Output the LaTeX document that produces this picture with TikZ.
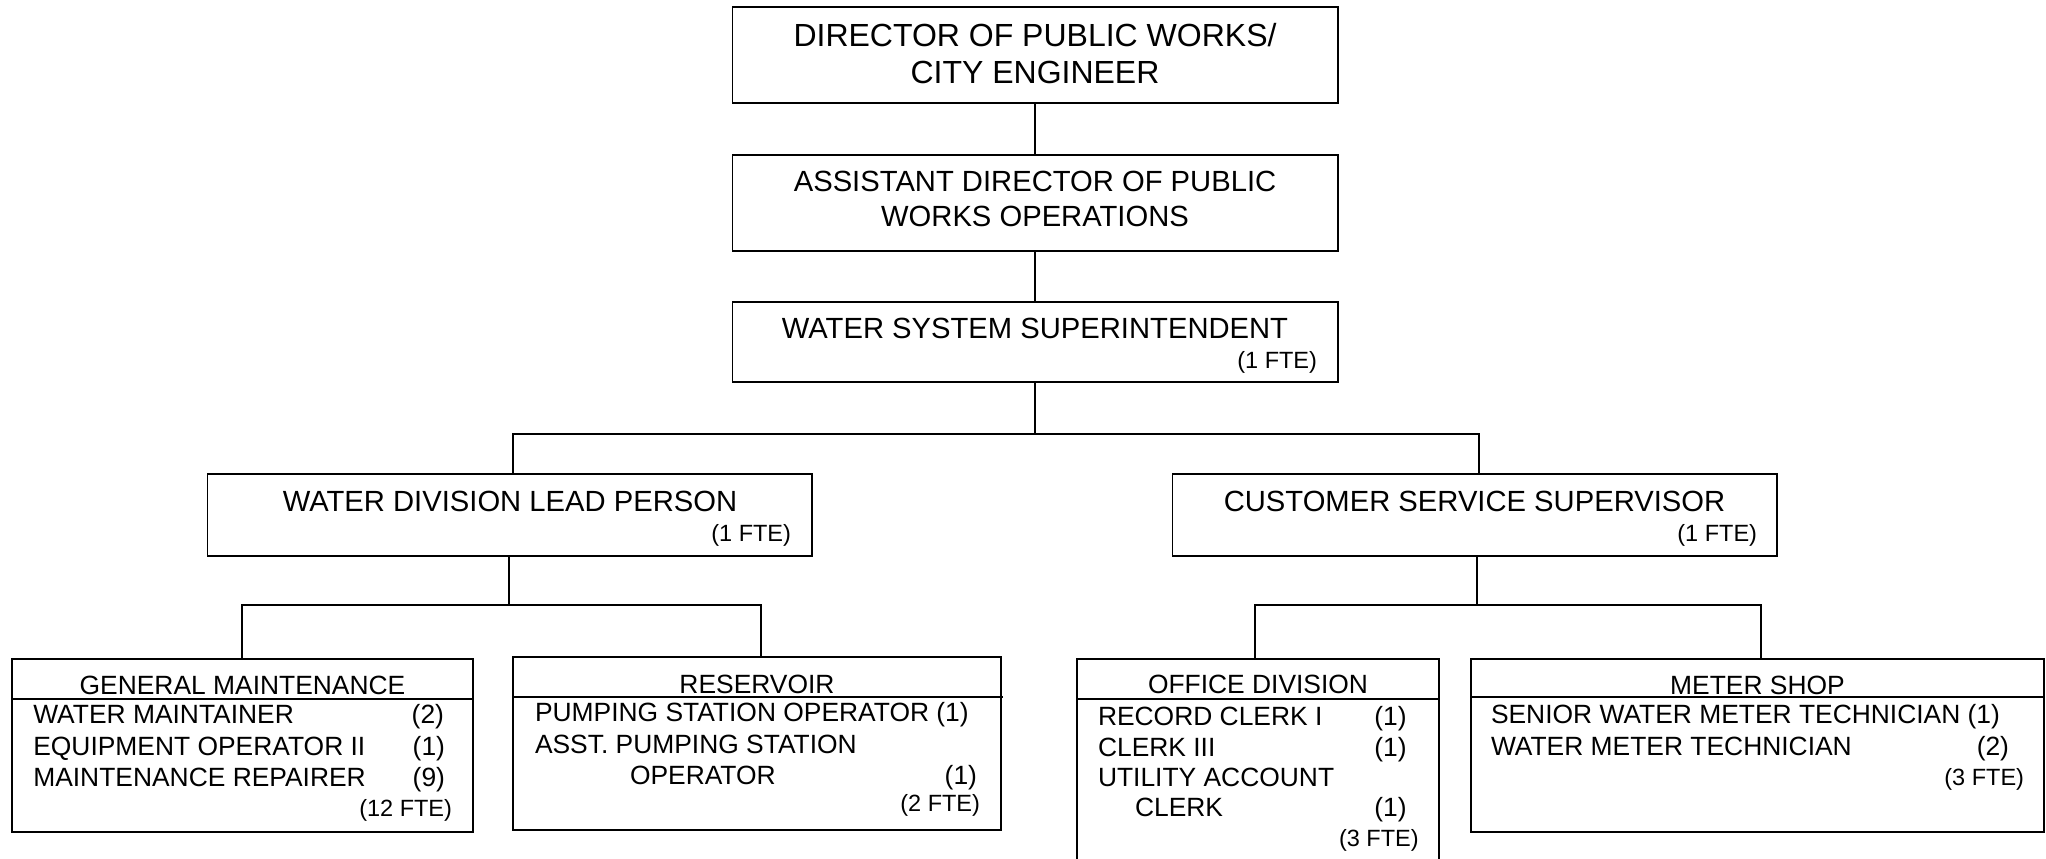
\documentclass[tikz,border=0pt]{standalone}
\usepackage{fontspec}
\setmainfont{Liberation Sans}
\newcommand\fDir{\fontsize{32}{38}\selectfont}
\newcommand\fMid{\fontsize{29.2}{35}\selectfont}
\newcommand\fLow{\fontsize{26.4}{31}\selectfont}
\newcommand\fSm{\fontsize{23.5}{28}\selectfont}
\tikzset{
  box/.style={draw, line width=1.8pt, inner sep=0pt, outer sep=0pt},
  tc/.style={inner sep=0pt, outer sep=0pt, anchor=base},
  tl/.style={inner sep=0pt, outer sep=0pt, anchor=base west},
  tr/.style={inner sep=0pt, outer sep=0pt, anchor=base east},
  conn/.style={line width=1.8pt},
}
\begin{document}
\begin{tikzpicture}[x=1pt,y=-1pt]
\useasboundingbox (0,0) rectangle (2046,859);
\clip (0,0) rectangle (2046,859);
% boxes
\node[box, minimum width=605.2pt, minimum height=95.4pt] (dir) at (1035,55) {};
\node[box, minimum width=605.2pt, minimum height=95.7pt] (ass) at (1035,202.85) {};
\node[box, minimum width=605.2pt, minimum height=80.6pt] (wss) at (1035,342) {};
\node[box, minimum width=604.6pt, minimum height=81.4pt] (wdlp) at (509.7,515) {};
\node[box, minimum width=604.5pt, minimum height=81.4pt] (css) at (1474.75,515) {};
\node[box, minimum width=461pt, minimum height=173pt] (gm) at (242.5,745.8) {};
\node[box, minimum width=487.7pt, minimum height=172.7pt] (res) at (757.15,743.65) {};
\node[box, minimum width=362pt, minimum height=240pt] (off) at (1258,779.3) {};
\node[box, minimum width=573pt, minimum height=172.4pt] (met) at (1757.5,745.5) {};
% dividers
\draw[conn] (gm.west |- 0,699.3) -- (gm.east |- 0,699.3);
\draw[conn] (res.west |- 0,697.3) -- ([xshift=2pt]res.east |- 0,697.3);
\draw[conn] (off.west |- 0,699) -- (off.east |- 0,699);
\draw[conn] (met.west |- 0,697) -- (met.east |- 0,697);
% texts
\node[tc] (dirA) at (1035,46.7) {\fDir DIRECTOR OF PUBLIC WORKS/};
\node[tc] (dirB) at (1035,83.3) {\fDir CITY ENGINEER};
\node[tc] (assA) at (1035,191.7) {\fMid ASSISTANT DIRECTOR OF PUBLIC};
\node[tc] (assB) at (1035,226.7) {\fMid WORKS OPERATIONS};
\node[tc] (wssA) at (1035,338.3) {\fMid WATER SYSTEM SUPERINTENDENT};
\node[tr] (wssB) at (1317,368.3) {\fSm (1 FTE)};
\node[tc] (wdlpA) at (510,511.7) {\fMid WATER DIVISION LEAD PERSON};
\node[tr] (wdlpB) at (791,541.7) {\fSm (1 FTE)};
\node[tc] (cssA) at (1474.5,511.7) {\fMid CUSTOMER SERVICE SUPERVISOR};
\node[tr] (cssB) at (1757,541.7) {\fSm (1 FTE)};
% general maintenance
\node[tc] (gmT) at (242.5,694) {\fLow GENERAL MAINTENANCE};
\node[tl] (gm1) at (33.3,723.3) {\fLow WATER MAINTAINER};
\node[tl] (gm2) at (33.3,755) {\fLow EQUIPMENT OPERATOR II};
\node[tl] (gm3) at (33.3,786.7) {\fLow MAINTENANCE REPAIRER};
\node[tr] (gm1n) at (444,723.3) {\fLow (2)};
\node[tr] (gm2n) at (445,755) {\fLow (1)};
\node[tr] (gm3n) at (445,786.7) {\fLow (9)};
\node[tr] (gmF) at (452,816) {\fSm (12 FTE)};
% reservoir
\node[tc] (resT) at (757,693) {\fLow RESERVOIR};
\node[tl] (res1) at (535,721.7) {\fLow PUMPING STATION OPERATOR (1)};
\node[tl] (res2) at (535,753.3) {\fLow ASST. PUMPING STATION};
\node[tl] (res3) at (630,784.3) {\fLow OPERATOR};
\node[tr] (res3n) at (977,784.3) {\fLow (1)};
\node[tr] (resF) at (980,811.7) {\fSm (2 FTE)};
% office division
\node[tc] (offT) at (1258,693) {\fLow OFFICE DIVISION};
\node[tl] (off1) at (1098,725) {\fLow RECORD CLERK I};
\node[tl] (off2) at (1098,756) {\fLow CLERK III};
\node[tl] (off3) at (1098,786.7) {\fLow UTILITY ACCOUNT};
\node[tl] (off4) at (1135,816.7) {\fLow CLERK};
\node[tr] (off1n) at (1406.6,725) {\fLow (1)};
\node[tr] (off2n) at (1406.6,756) {\fLow (1)};
\node[tr] (off4n) at (1406.6,816.7) {\fLow (1)};
\node[tr] (offF) at (1418.7,846.7) {\fSm (3 FTE)};
% meter shop
\node[tc] (metT) at (1757.5,694) {\fLow METER SHOP};
\node[tl] (met1) at (1491,723) {\fLow SENIOR WATER METER TECHNICIAN (1)};
\node[tl] (met2) at (1491,755) {\fLow WATER METER TECHNICIAN};
\node[tr] (met2n) at (2009,755) {\fLow (2)};
\node[tr] (metF) at (2024,785) {\fSm (3 FTE)};
% connectors
\coordinate (busT) at (1035,433.7);
\coordinate (busL) at (513,433.7);
\coordinate (busR) at (1479,433.7);
\coordinate (bw) at (509,605);
\coordinate (bwL) at (242.3,605);
\coordinate (bwR) at (761,605);
\coordinate (bc) at (1477,605);
\coordinate (bcL) at (1255,605);
\coordinate (bcR) at (1761,605);
\draw[conn] (dir.south) -- (ass.north);
\draw[conn] (ass.south) -- (wss.north);
\draw[conn] (wss.south) -- (busT);
\draw[conn] (busL |- wdlp.north) -- (busL) -- (busR) -- (busR |- css.north);
\draw[conn] (bw |- wdlp.south) -- (bw);
\draw[conn] (bwL |- gm.north) -- (bwL) -- (bwR) -- (bwR |- res.north);
\draw[conn] (bc |- css.south) -- ([yshift=1.5pt]bc);
\draw[conn] (bcL |- off.north) -- (bcL) -- (bcR) -- (bcR |- met.north);
\end{tikzpicture}
\end{document}
